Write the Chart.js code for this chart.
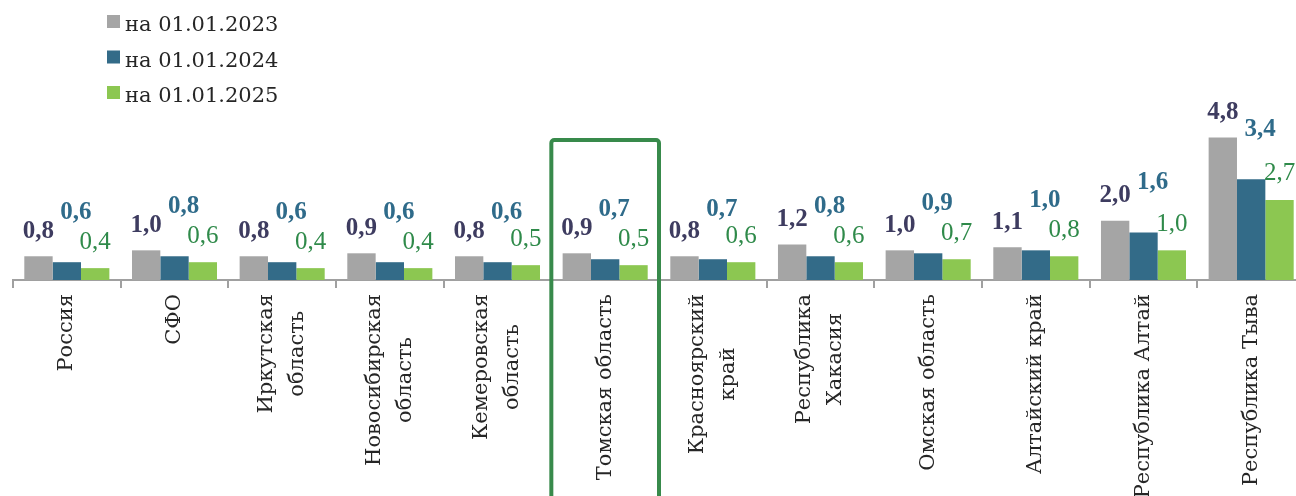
<!DOCTYPE html>
<html>
<head>
<meta charset="utf-8">
<script src="https://cdn.jsdelivr.net/npm/chart.js@4.4.1/dist/chart.umd.min.js"></script>
<style>
  html, body { margin: 0; padding: 0; background: #fff; overflow: hidden; }
  #wrap { width: 1296px; height: 496px; overflow: hidden; }
  #box { width: 1306px; height: 496px; }
</style>
</head>
<body>
<div id="wrap"><div id="box"><canvas id="rateChart"></canvas></div></div>
<script>
const regions = [
    'Россия', 'СФО', ['Иркутская', 'область'], ['Новосибирская', 'область'],
    ['Кемеровская', 'область'], 'Томская область', ['Красноярский', 'край'],
    ['Республика', 'Хакасия'], 'Омская область', 'Алтайский край',
    'Республика Алтай', 'Республика Тыва'
];
const seriesNames = ['на 01.01.2023', 'на 01.01.2024', 'на 01.01.2025'];
const values2023 = [0.8, 1.0, 0.8, 0.9, 0.8, 0.9, 0.8, 1.2, 1.0, 1.1, 2.0, 4.8];
const values2024 = [0.6, 0.8, 0.6, 0.6, 0.6, 0.7, 0.7, 0.8, 0.9, 1.0, 1.6, 3.4];
const values2025 = [0.4, 0.6, 0.4, 0.4, 0.5, 0.5, 0.6, 0.6, 0.7, 0.8, 1.0, 2.7];
const highlightIndex = 5; // Томская область

const barColors = ['#a5a5a5', '#336b88', '#8cc751'];
const labelColors = ['#3e3c60', '#2f6b8a', '#2f8a4a'];
const labelWeights = ['bold', 'bold', 'normal'];
const labelShift = [[0, -25], [9, -50], [0, -26]];
const serif = "'DejaVu Serif', serif";

// value labels above bars, shifted like in the source
const valueLabels = {
    id: 'valueLabels',
    afterDatasetsDraw(chart) {
        const ctx = chart.ctx;
        ctx.save();
        ctx.textAlign = 'center';
        ctx.textBaseline = 'middle';
        chart.data.datasets.forEach((ds, i) => {
            const meta = chart.getDatasetMeta(i);
            ctx.font = labelWeights[i] + " 25px 'Liberation Serif', serif";
            ctx.fillStyle = labelColors[i];
            meta.data.forEach((bar, j) => {
                const txt = ds.data[j].toFixed(1).replace('.', ',');
                ctx.fillText(txt, bar.x + labelShift[i][0], bar.y + labelShift[i][1]);
            });
        });
        ctx.restore();
    }
};

// vertical category names, lines centered on each other
const categoryNames = {
    id: 'categoryNames',
    afterDraw(chart) {
        const ctx = chart.ctx;
        const xs = chart.scales.x;
        const top = chart.chartArea.bottom + 14;
        ctx.save();
        ctx.font = '21px ' + serif;
        ctx.fillStyle = '#262626';
        ctx.textAlign = 'center';
        ctx.textBaseline = 'middle';
        regions.forEach((lab, i) => {
            const lines = Array.isArray(lab) ? lab : [lab];
            const w = Math.max(...lines.map(l => ctx.measureText(l).width));
            ctx.save();
            ctx.translate(xs.getPixelForValue(i), top);
            ctx.rotate(-Math.PI / 2);
            lines.forEach((l, k) => {
                ctx.fillText(l, -w / 2, (k - (lines.length - 1) / 2) * 31);
            });
            ctx.restore();
        });
        ctx.restore();
    }
};

// frame around the highlighted region
const highlight = {
    id: 'highlight',
    afterDraw(chart) {
        const ctx = chart.ctx;
        const xs = chart.scales.x;
        const half = (xs.getPixelForValue(1) - xs.getPixelForValue(0)) / 2;
        const c = xs.getPixelForValue(highlightIndex);
        ctx.save();
        ctx.strokeStyle = '#388a4b';
        ctx.lineWidth = 4;
        ctx.beginPath();
        ctx.roundRect(c - half, 140, half * 2, 400, 3);
        ctx.stroke();
        ctx.restore();
    }
};

// legend stacked in the top left corner
const stackedLegend = {
    id: 'stackedLegend',
    afterDraw(chart) {
        const ctx = chart.ctx;
        ctx.save();
        ctx.font = '21px ' + serif;
        ctx.textBaseline = 'alphabetic';
        ctx.textAlign = 'left';
        chart.data.datasets.forEach((ds, i) => {
            const y = 15 + i * 35.5;
            ctx.fillStyle = ds.backgroundColor;
            ctx.fillRect(107, y, 13, 13);
            ctx.fillStyle = '#262626';
            ctx.fillText(ds.label, 125, y + 16);
        });
        ctx.restore();
    }
};

const ctx = document.getElementById('rateChart').getContext('2d');
const rateChart = new Chart(ctx, {
    type: 'bar',
    data: {
        labels: regions,
        datasets: [
            { label: seriesNames[0], data: values2023, backgroundColor: barColors[0] },
            { label: seriesNames[1], data: values2024, backgroundColor: barColors[1] },
            { label: seriesNames[2], data: values2025, backgroundColor: barColors[2] }
        ]
    },
    options: {
        responsive: true,
        maintainAspectRatio: false,
        animation: false,
        layout: { padding: { top: 13, left: 13, right: 1, bottom: 0 } },
        datasets: { bar: { categoryPercentage: 0.79, barPercentage: 1 } },
        scales: {
            x: {
                border: { color: '#a0a0a0', width: 2 },
                grid: { drawOnChartArea: false, color: '#a0a0a0', lineWidth: 2, tickLength: 8, offset: true },
                ticks: { display: false },
                afterFit(scale) { scale.height = 216; }
            },
            y: { display: false, min: 0, max: 9 }
        },
        plugins: {
            legend: { display: false },
            tooltip: { enabled: false }
        }
    },
    plugins: [valueLabels, categoryNames, highlight, stackedLegend]
});
</script>
</body>
</html>
